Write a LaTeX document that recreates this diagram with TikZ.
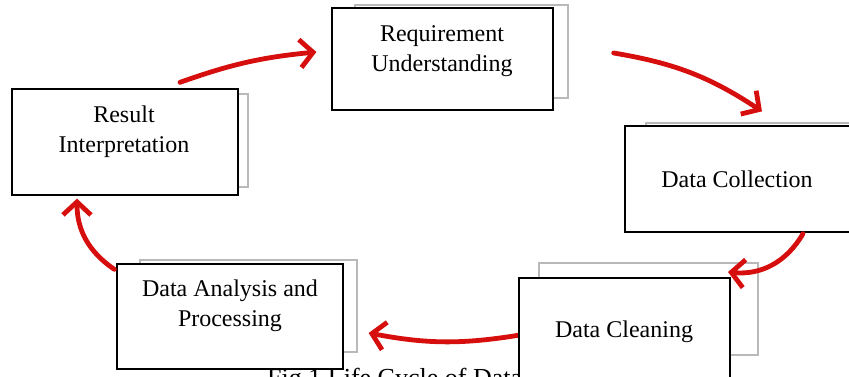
\documentclass[tikz,border=0pt]{standalone}
\usepackage{fontspec}
\setmainfont{Liberation Serif}
\usetikzlibrary{arrows.meta}
\definecolor{flowred}{RGB}{214,14,14}
\tikzset{
box/.style={draw, fill=white, line width=1.3pt, inner sep=0},
backbox/.style={draw=gray!55, line width=2.8pt},
txt/.style={align=center, inner sep=0, font=\fontsize{24}{30}\selectfont},
caption/.style={inner sep=0, font=\fontsize{26}{30}\selectfont},
flow/.style={draw=flowred, line width=4.8pt, line cap=round, -{Straight Barb[length=13pt, width=28pt]}},
}

\begin{document}
\begin{tikzpicture}[x=1pt, y=-1pt]
    \useasboundingbox (0,0) rectangle (849,377);

    %back boxes
    \draw[backbox] (355,5) rectangle (568,98);
    \draw[backbox] (646,123) rectangle (875,220);
    \draw[backbox] (539,263) rectangle (758,355);
    \draw[backbox] (140,260) rectangle (357,352);
    \draw[backbox] (35,94) rectangle (248,187);

    %caption
    \node[caption, anchor=base west] (cap) at (267,386) {Fig 1 Life Cycle of Data};

    %front boxes
    \node[box, minimum width=221pt, minimum height=102pt] (ru) at (442.5,59) {};
    \node[box, minimum width=225pt, minimum height=106pt] (dc) at (737.5,179) {};
    \node[box, minimum width=226pt, minimum height=105pt] (da) at (230,316.5) {};
    \node[box, minimum width=226pt, minimum height=106pt] (ri) at (125,142) {};

    %arrows
    \draw[flow] ([xshift=55pt, yshift=6pt]ri.north) to[bend left=7] ([xshift=-15pt, yshift=7pt]ru.west);
    \draw[flow] ([xshift=60pt, yshift=6pt]ru.east) to[bend left=12] ([xshift=24.5pt, yshift=14pt]dc.north);
    \draw[flow] ([xshift=65.5pt, yshift=-1pt]dc.south) to[bend left=33] (728,272) coordinate (dcl-in);
    \draw[flow] (520,335) coordinate (dcl-out) to[bend left=10] ([xshift=25pt, yshift=-16.5pt]da.east);
    \draw[flow] ([xshift=-2pt, yshift=-6pt]da.north west) to[bend left=28] ([xshift=-48pt, yshift=-3pt]ri.south);

    \node[box, minimum width=211pt, minimum height=104pt] (dcl) at (624.5,330) {};

    %labels
    \node[txt] (ru-t) at (442,51) {Requirement\\Understanding};
    \node[txt] (dc-t) at (737,179) {Data Collection};
    \node[txt] (dcl-t) at (624,331.5) {Data Cleaning};
    \node[txt] (da-t) at (230,306) {Data Analysis and\\Processing};
    \node[txt] (ri-t) at (124,132) {Result\\Interpretation};

\end{tikzpicture}
\end{document}
